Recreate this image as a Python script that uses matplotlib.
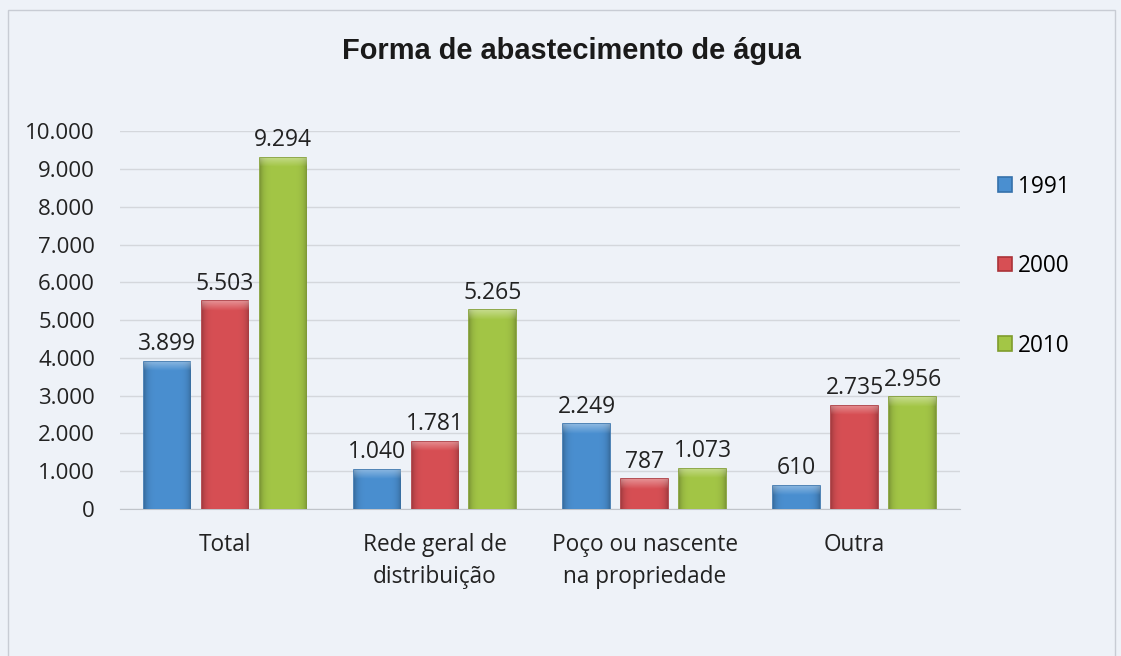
import matplotlib.pyplot as plt
import numpy as np
from matplotlib.colors import to_rgb
from matplotlib.patches import Rectangle

categories = ["Total", "Rede geral de\ndistribuição", "Poço ou nascente\nna propriedade", "Outra"]
years = ["1991", "2000", "2010"]
v1991 = [3899, 1040, 2249, 610]
v2000 = [5503, 1781, 787, 2735]
v2010 = [9294, 5265, 1073, 2956]
yticks = [0, 1000, 2000, 3000, 4000, 5000, 6000, 7000, 8000, 9000, 10000]

colors = ["#4a8fd0", "#d74f54", "#a3c646"]
edges = ["#3571ab", "#aa3338", "#7f9c2c"]
bg = "#eef2f8"


def fmt(v):
    return f"{v:,}".replace(",", ".")


def shade_bar(ax, bar, color):
    # bevel look: darker sides, lighter top cap
    bb = bar.get_window_extent()
    w = max(int(bb.width), 2)
    h = max(int(bb.height), 2)
    base = np.array(to_rgb(color))
    xs = np.linspace(-1, 1, w)
    side = 1 - 0.22 * np.abs(xs) ** 6
    img = np.ones((h, w, 3)) * base
    img *= side[None, :, None]
    cap = 9
    for r in range(min(cap, h)):
        f = 0.35 * (1 - r / cap)
        img[r] = img[r] + (1 - img[r]) * f
    img = np.clip(img, 0, 1)
    x0, y0 = bar.get_x(), bar.get_y()
    im = ax.imshow(img, extent=(x0, x0 + bar.get_width(), y0, y0 + bar.get_height()),
                   aspect="auto", zorder=3.5, interpolation="bilinear")
    im.set_clip_path(bar)


plt.rcParams['font.family'] = ['Open Sans', 'DejaVu Sans']

fig = plt.figure(figsize=(11.21, 6.56), dpi=100, facecolor=bg)
ax = fig.add_axes([0.107, 0.224, 0.749, 0.576])
ax.set_facecolor(bg)

# frame around the whole chart
fig.patches.append(Rectangle((0.007, -0.01), 0.988, 0.995, transform=fig.transFigure,
                             fill=False, edgecolor="#c8ccd4", linewidth=1))

x = np.arange(len(categories))
pitch = 0.276
width = 0.222
ax.set_xlim(-0.5, 3.5)
ax.set_ylim(0, 10000)

all_bars = []
for i, (vals, yr) in enumerate(zip([v1991, v2000, v2010], years)):
    pos = x + (i - 1) * pitch
    bars = ax.bar(pos, vals, width, color=colors[i], edgecolor=edges[i],
                  linewidth=1.2, label=yr, zorder=3)
    all_bars.append((bars, colors[i]))
    for b, v in zip(bars, vals):
        ax.annotate(fmt(v), (b.get_x() + b.get_width() / 2, v),
                    xytext=(0, 4), textcoords="offset points",
                    ha="center", va="bottom", fontsize=16.5, color="#222222")

fig.canvas.draw()
for bars, c in all_bars:
    for b in bars:
        shade_bar(ax, b, c)
ax.set_xlim(-0.5, 3.5)
ax.set_ylim(0, 10000)

ax.set_yticks(yticks)
ax.set_yticklabels([fmt(t) for t in yticks], fontsize=16, color="#222222")
ax.set_xticks(x)
ax.set_xticklabels(categories, fontsize=16.3, color="#222222", linespacing=1.48)
ax.tick_params(axis="y", length=0, pad=18)
ax.tick_params(axis="x", length=0, pad=17)
ax.grid(axis="y", color="#d4d7dc", linewidth=1, zorder=0)
for s in ["top", "right", "left"]:
    ax.spines[s].set_visible(False)
ax.spines["bottom"].set_color("#c0c4ca")

fig.text(0.51, 0.922, "Forma de abastecimento de água", ha="center", va="center",
         fontsize=20.9, fontweight="bold", family="Liberation Sans", color="#1a1a1a")

leg = ax.legend(loc="center left", bbox_to_anchor=(1.022, 0.643), frameon=False,
                fontsize=16.3, handlelength=0.6, handleheight=0.6, handletextpad=0.25,
                labelspacing=2.45)

fig.savefig("out.png", dpi=100, facecolor=bg)
